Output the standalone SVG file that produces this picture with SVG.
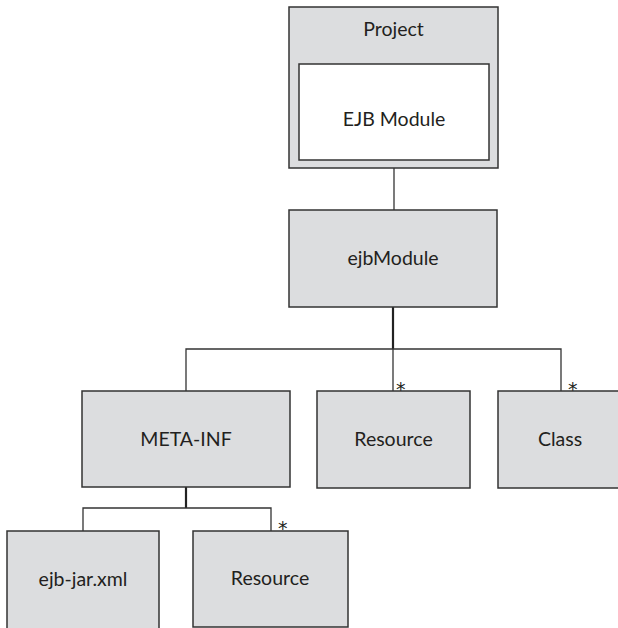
<svg xmlns="http://www.w3.org/2000/svg" width="618" height="628" viewBox="0 0 618 628">
<style>
.box{fill:#dcdddf;stroke:#333;stroke-width:1.5}
.inner{fill:#fff;stroke:#333;stroke-width:1.5}
.lbl{font-family:Lato,"Open Sans",sans-serif;font-size:19.5px;fill:#231f20;text-anchor:middle}
.ast{font-family:"DejaVu Sans",sans-serif;font-size:19px;fill:#231f20}
.ln{stroke:#333;stroke-width:1.3;fill:none}
.thick{stroke:#222;stroke-width:2.2;fill:none}
</style>
<rect width="618" height="628" fill="#fff"/>
<g id="connectors">
<line class="ln" x1="394" y1="168" x2="394" y2="210"/>
<line class="thick" x1="393" y1="307" x2="393" y2="349"/>
<polyline class="ln" points="186,391 186,349 561,349 561,391"/>
<line class="ln" x1="393" y1="349" x2="393" y2="391"/>
<line class="thick" x1="186" y1="487" x2="186" y2="508"/>
<polyline class="ln" points="83,531 83,508 271,508 271,531"/>
<text class="ast" x="396" y="396">*</text>
<text class="ast" x="568" y="396">*</text>
<text class="ast" x="278" y="535">*</text>
</g>
<g id="project">
<rect class="box" x="289" y="7" width="209" height="161"/>
<text class="lbl" x="393.5" y="36">Project</text>
</g>
<g id="ejb-module">
<rect class="inner" x="299" y="64" width="190" height="96"/>
<text class="lbl" x="394" y="126">EJB Module</text>
</g>
<g id="ejbModule">
<rect class="box" x="289" y="210" width="208" height="97"/>
<text class="lbl" x="393" y="265">ejbModule</text>
</g>
<g id="meta-inf">
<rect class="box" x="82" y="391" width="208" height="96"/>
<text class="lbl" x="186" y="446">META-INF</text>
</g>
<g id="resource1">
<rect class="box" x="317" y="391" width="153" height="97"/>
<text class="lbl" x="393.5" y="446">Resource</text>
</g>
<g id="class">
<rect class="box" x="498" y="391" width="130" height="97"/>
<text class="lbl" x="560" y="446">Class</text>
</g>
<g id="ejb-jar">
<rect class="box" x="7" y="531" width="152" height="110"/>
<text class="lbl" x="83" y="586">ejb-jar.xml</text>
</g>
<g id="resource2">
<rect class="box" x="193" y="531" width="155" height="96"/>
<text class="lbl" x="270" y="585">Resource</text>
</g>
</svg>
